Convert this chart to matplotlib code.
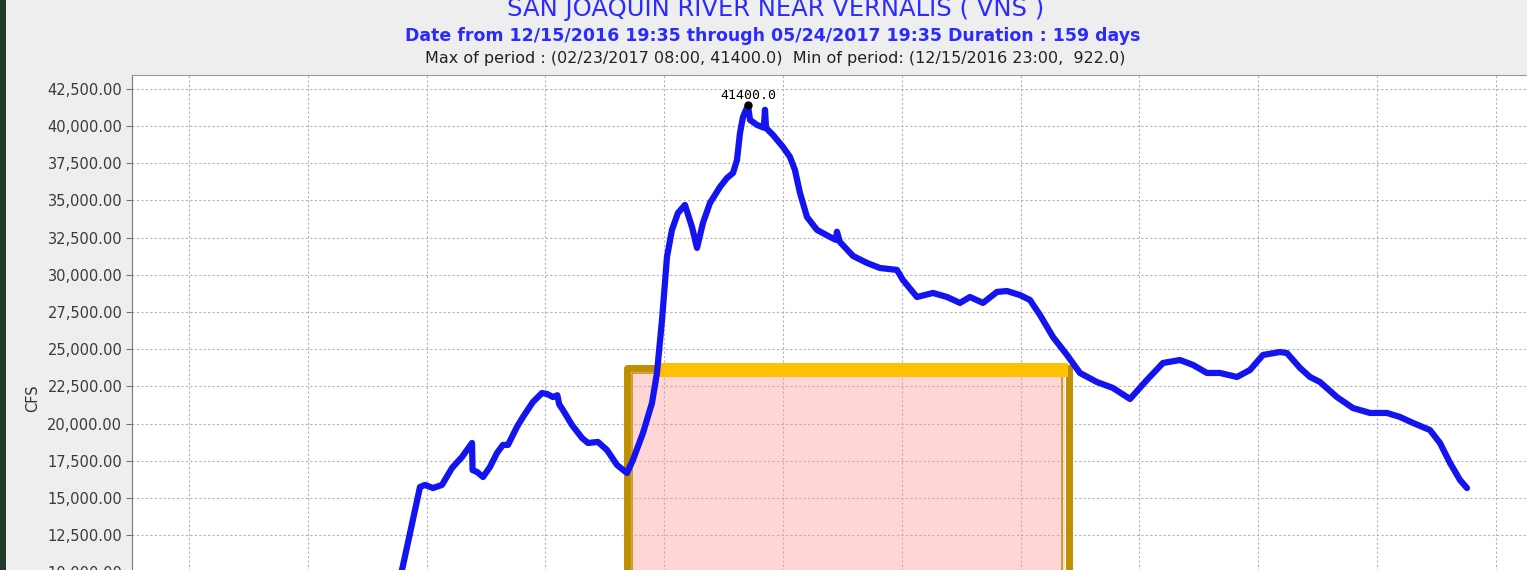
import matplotlib
matplotlib.use("Agg")
import matplotlib.pyplot as plt
import numpy as np
from matplotlib.patches import Rectangle
from matplotlib.lines import Line2D
from matplotlib.ticker import FuncFormatter, MultipleLocator

# flow record, days after 12/15/2016 19:35 and CFS
days = [0.0, 0.14, 5.0, 12.0, 20.0, 25.0, 27.5, 29.0,
        30.47, 32.50, 33.06, 33.97, 34.98, 36.11, 37.24, 38.37, 38.43, 38.93,
        39.61, 40.40, 41.19, 41.86, 42.43, 43.44, 44.12, 45.25, 46.26, 46.83,
        47.51, 48.0, 48.2, 48.63, 49.65, 50.78, 51.46, 52.58, 53.60, 54.73,
        55.86, 56.53, 57.66, 58.68, 59.24, 59.81, 60.37, 60.93, 61.61, 62.40,
        63.19, 63.76, 64.43, 65.22, 66.35, 67.14, 67.82, 68.27, 68.61, 68.95,
        69.51, 69.74, 70.53, 71.30, 71.43, 71.55, 72.33, 73.46, 74.25, 74.81,
        75.38, 76.17, 77.30, 78.76, 79.45, 79.55, 79.89, 81.36, 82.94, 84.40,
        86.32, 87.00, 88.58, 90.39, 91.97, 93.43, 94.56, 96.03, 97.61, 98.74,
        100.20, 101.33, 102.46, 103.93, 105.51, 106.97, 108.89, 110.70, 112.62,
        114.53, 116.34, 118.26, 119.73, 121.30, 122.77, 124.69, 126.16, 127.62,
        129.54, 130.33, 131.80, 132.93, 134.06, 135.97, 137.78, 139.70, 141.62,
        143.08, 144.55, 146.47, 147.60, 148.73, 149.86, 150.65]
cfs = [1100, 922, 1000, 1300, 1900, 3000, 3800, 6300,
       10150, 15730, 15870, 15660, 15870, 17010, 17750, 18690, 16870, 16740,
       16400, 17080, 18020, 18560, 18560, 19770, 20440, 21450, 22050, 21990,
       21780, 21900, 21300, 20910, 19900, 19030, 18690, 18760, 18220, 17210,
       16670, 17550, 19360, 21380, 23400, 26960, 31200, 33020, 34160, 34700,
       33220, 31810, 33490, 34830, 35910, 36510, 36850, 37720, 39540, 40620,
       41400, 40420, 40080, 39900, 41100, 39880, 39410, 38600, 37930, 37050,
       35500, 33890, 33020, 32550, 32350, 32900, 32210, 31270, 30800, 30460,
       30330, 29650, 28510, 28780, 28510, 28110, 28510, 28110, 28850, 28910,
       28640, 28310, 27300, 25820, 24610, 23400, 22790, 22390, 21650,
       22930, 24070, 24270, 23940, 23400, 23400, 23130, 23600, 24610,
       24810, 24740, 23740, 23130, 22790, 21780, 21040, 20710, 20710,
       20440, 20040, 19560, 18690, 17350, 16200, 15660]

title = "SAN JOAQUIN RIVER NEAR VERNALIS ( VNS )"
subtitle = "Date from 12/15/2016 19:35 through 05/24/2017 19:35 Duration : 159 days"
stats = "Max of period : (02/23/2017 08:00, 41400.0)  Min of period: (12/15/2016 23:00,  922.0)"

W, H = 1527, 570
DUR = 159
Y_MAX = 43440


def fx(px):
    return px / W


def fy(py):
    return 1 - py / H


fig = plt.figure(figsize=(W / 100, H / 100), dpi=100, facecolor="#eeeeee")

# plot area runs past the right and bottom edges of the screenshot
px_per_cfs = 37.17 / 2500
ax_h = Y_MAX * px_per_cfs / H
ax = fig.add_axes([fx(132), fy(75) - ax_h, fx(1541) - fx(132), ax_h])
ax.set_facecolor("white")
ax.set_xlim(0, DUR)
ax.set_ylim(0, Y_MAX)

ax.yaxis.set_major_locator(MultipleLocator(2500))
ax.yaxis.set_major_formatter(FuncFormatter(lambda v, p: f"{v:,.2f}"))
ax.set_xticks(np.arange(6.43, DUR, 13.405))
ax.tick_params(axis="y", length=4, width=0.8, pad=3, labelsize=10.5,
               labelcolor="#3a3a3a", color="#777777")
ax.tick_params(axis="x", length=0, labelbottom=False)
ax.grid(True, color="#b4b4b4", lw=0.8, ls=(0, (2, 2)))
ax.set_axisbelow(True)
for s in ["right", "bottom"]:
    ax.spines[s].set_visible(False)
ax.spines["left"].set_color("#777777")
ax.spines["top"].set_color("#999999")

ax.set_ylabel("CFS", fontsize=10.5, color="#333333", labelpad=5)

ax.plot(days, cfs, color="#1414f0", lw=4.5, solid_joinstyle="round",
        solid_capstyle="round", zorder=3)

i_max = int(np.argmax(cfs))
ax.plot(days[i_max], cfs[i_max], "o", color="black", ms=5, zorder=4)
ax.annotate(f"{cfs[i_max]:.1f}", (days[i_max], cfs[i_max]), xytext=(0, 7),
            textcoords="offset points", ha="center", va="center",
            family="DejaVu Sans Mono", fontsize=9.5, color="black", zorder=5)

# highlighted window drawn on the screenshot
tf = fig.transFigure
ax.add_patch(Rectangle((fx(632), fy(620)), fx(1065) - fx(632), fy(373) - fy(620),
                       transform=tf, facecolor="#ff9999", alpha=0.4,
                       edgecolor="none", zorder=1.5))
ax.add_line(Line2D([fx(626.5), fx(626.5), fx(1069), fx(1069)],
                   [fy(620), fy(368), fy(368), fy(620)], transform=tf,
                   color="#bf8f00", lw=5, solid_joinstyle="round", zorder=2.5))
ax.add_line(Line2D([fx(632), fx(632), fx(1062), fx(1062)],
                   [fy(620), fy(373), fy(373), fy(620)], transform=tf,
                   color="#bf8f00", lw=1.1, zorder=2.6))
ax.add_patch(Rectangle((fx(657), fy(377)), fx(1068) - fx(657), fy(363) - fy(377),
                       transform=tf, facecolor="#ffc000", edgecolor="none",
                       zorder=2.7))

fig.patches.append(Rectangle((0, 0), fx(6), 1, transform=tf,
                             facecolor="#1e3b2c", edgecolor="none"))

fig.text(fx(776), fy(16), title, ha="center", va="baseline",
         fontsize=17.5, color="#2b2bff")
fig.text(fx(773), fy(41), subtitle, ha="center", va="baseline",
         fontsize=12.5, fontweight="bold", color="#2b2bff")
fig.text(fx(775), fy(63), stats, ha="center", va="baseline",
         fontsize=11.5, color="#222222")

fig.savefig("out.png", dpi=100, facecolor=fig.get_facecolor())
